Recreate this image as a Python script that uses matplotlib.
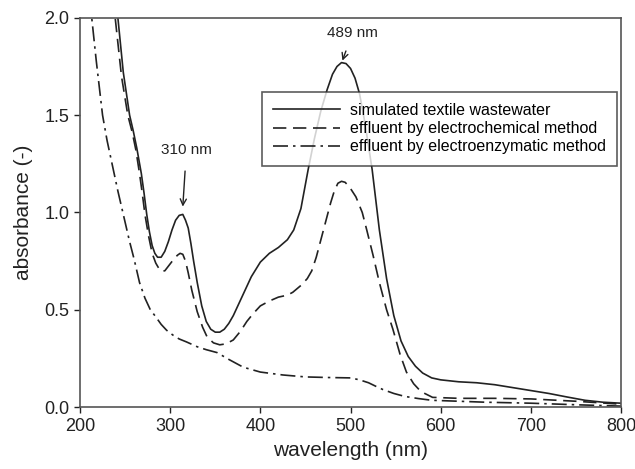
import matplotlib
matplotlib.use('Agg')
import matplotlib.pyplot as plt

# simulated textile wastewater (solid)
wl_raw = [238, 242, 248, 255, 259, 263, 268, 271, 274, 277, 280, 283, 286, 290, 294,
          298, 302, 306, 310, 314, 317, 320, 323, 326, 330, 335, 340, 345, 350, 355,
          360, 365, 370, 380, 390, 400, 410, 420, 430, 437, 445, 453, 460, 467, 474,
          480, 485, 490, 495, 500, 505, 510, 516, 524, 532, 540, 548, 556, 564, 572,
          580, 590, 600, 620, 640, 660, 680, 700, 720, 740, 760, 780, 800]
abs_raw = [2.3, 2.0, 1.72, 1.5, 1.42, 1.33, 1.2, 1.1, 0.99, 0.9, 0.83, 0.79, 0.77, 0.77, 0.8,
           0.85, 0.91, 0.96, 0.985, 0.99, 0.96, 0.92, 0.84, 0.75, 0.64, 0.52, 0.44, 0.40, 0.385, 0.385,
           0.40, 0.43, 0.47, 0.57, 0.67, 0.745, 0.79, 0.82, 0.86, 0.91, 1.02, 1.22, 1.38, 1.52, 1.63,
           1.71, 1.75, 1.77, 1.765, 1.74, 1.69, 1.61, 1.46, 1.22, 0.91, 0.66, 0.47, 0.34, 0.26, 0.21,
           0.175, 0.15, 0.14, 0.13, 0.125, 0.115, 0.10, 0.085, 0.07, 0.052, 0.035, 0.025, 0.02]

# effluent by electrochemical method (dashed)
wl_ec = [235, 239, 246, 253, 258, 262, 266, 269, 272, 276, 280, 284, 289, 294, 299, 304,
         308, 311, 314, 317, 320, 324, 330, 336, 341, 348, 355, 362, 370, 378, 385, 392, 400,
         410, 420, 430, 436, 445, 452, 457, 462, 466, 470, 474, 478, 482, 486, 490, 494,
         499, 506, 513, 518, 525, 532, 540, 547, 555, 562, 570, 578, 591, 620, 660, 700, 750, 800]
abs_ec = [2.3, 2.0, 1.7, 1.5, 1.41, 1.32, 1.2, 1.1, 0.99, 0.88, 0.79, 0.74, 0.70, 0.70, 0.73, 0.76,
          0.78, 0.79, 0.785, 0.75, 0.69, 0.6, 0.49, 0.41, 0.36, 0.33, 0.32, 0.325, 0.345, 0.39, 0.44, 0.48, 0.52,
          0.545, 0.565, 0.575, 0.59, 0.625, 0.66, 0.70, 0.77, 0.84, 0.91, 0.98, 1.05, 1.11, 1.15, 1.16, 1.155,
          1.13, 1.08, 1.0, 0.91, 0.78, 0.64, 0.50, 0.40, 0.27, 0.18, 0.12, 0.08, 0.05, 0.045, 0.045, 0.042, 0.03, 0.015]

# effluent by electroenzymatic method (dash-dot)
wl_ee = [207, 213, 218, 225, 230, 236, 242, 248, 255, 260, 266, 272, 278, 283, 290,
         296, 303, 310, 318, 330, 340, 352, 365, 381, 400, 425, 450, 475, 500, 510,
         520, 528, 536, 548, 560, 575, 590, 620, 650, 700, 750, 800]
abs_ee = [2.3, 2.0, 1.78, 1.5, 1.37, 1.24, 1.11, 0.99, 0.85, 0.76, 0.64, 0.56, 0.5, 0.47, 0.425,
          0.395, 0.37, 0.35, 0.335, 0.31, 0.295, 0.28, 0.245, 0.205, 0.18, 0.165, 0.155, 0.152, 0.15, 0.14,
          0.125, 0.107, 0.09, 0.07, 0.055, 0.044, 0.035, 0.03, 0.025, 0.02, 0.012, 0.005]

labels = ['simulated textile wastewater',
          'effluent by electrochemical method',
          'effluent by electroenzymatic method']

plt.rcParams['font.family'] = ['Liberation Sans', 'DejaVu Sans']

fig = plt.figure(figsize=(6.35, 4.69), dpi=100)
ax = fig.add_axes([0.126, 0.132, 0.852, 0.830])

ax.plot(wl_raw, abs_raw, color='#222222', lw=1.2, linestyle='-', label=labels[0])
ax.plot(wl_ec, abs_ec, color='#222222', lw=1.2, linestyle=(0, (8, 4)), label=labels[1])
ax.plot(wl_ee, abs_ee, color='#222222', lw=1.2, linestyle=(0, (9, 3, 1.5, 3)), label=labels[2])

ax.set_xlim(200, 800)
ax.set_ylim(0, 2.0)
ax.set_xticks([200, 300, 400, 500, 600, 700, 800])
ax.set_yticks([0.0, 0.5, 1.0, 1.5, 2.0])
ax.set_yticklabels(['0.0', '0.5', '1.0', '1.5', '2.0'])
ax.tick_params(direction='out', length=4, width=1, labelsize=13, colors='#222222')
for s in ax.spines.values():
    s.set_color('#555555')
    s.set_linewidth(1.2)

ax.set_xlabel('wavelength (nm)', fontsize=15, color='#222222', labelpad=5)
ax.set_ylabel('absorbance (-)', fontsize=15, color='#222222', labelpad=8)

# peak annotations
ax.annotate('310 nm', xy=(314, 1.03), xytext=(318, 1.32), ha='center', va='center',
            fontsize=11, color='#222222',
            arrowprops=dict(arrowstyle='->', color='#222222', lw=1, shrinkA=8, shrinkB=0))
ax.annotate('489 nm', xy=(491, 1.78), xytext=(502, 1.92), ha='center', va='center',
            fontsize=11, color='#222222',
            arrowprops=dict(arrowstyle='->', color='#222222', lw=1, shrinkA=6, shrinkB=0))

leg = ax.legend(loc='upper right', bbox_to_anchor=(0.9926, 0.81), fontsize=11.5,
                frameon=True, fancybox=False, edgecolor='#333333', handlelength=4.2,
                handletextpad=0.6, borderpad=0.7, labelspacing=0.2, borderaxespad=0)
leg.get_frame().set_linewidth(1.2)

fig.savefig('out.png', dpi=100)
